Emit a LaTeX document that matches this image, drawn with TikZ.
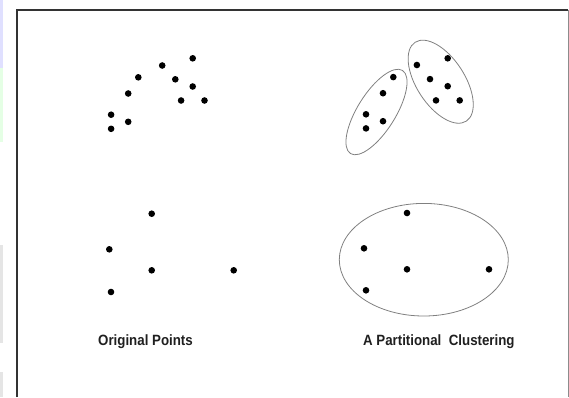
\documentclass[tikz,border=0pt]{standalone}
\usepackage{fontspec}
\setmainfont{Liberation Sans}
\begin{document}
\begin{tikzpicture}[x=1pt,y=-1pt,
  datapt/.style={circle, fill=black, draw=none, inner sep=0pt, minimum size=6.6pt},
  clusterline/.style={draw=black!50, line width=0.8pt},
  caption/.style={font=\fontsize{13.3}{15}\selectfont\bfseries, text=black!88, inner sep=0pt}]
\useasboundingbox (0,0) rectangle (569,397);
% left-edge screenshot strips
\fill[blue!12!white] (0,0) rectangle (3,68);
\fill[green!10!white] (0,68) rectangle (3,142);
\fill[black!10!white] (0,245) rectangle (3,343);
\fill[black!10!white] (0,372) rectangle (3,397);
% frame
\draw[black!80, line width=1.5pt] (17,397) -- (17,10) -- (568,10);
\draw[black!45, line width=1pt] (568,10) -- (568,397);
% upper left points
\foreach \n/\x/\y in {a1/192.7/58.3, a2/162.2/65.5, a3/138.3/77.3, a4/175.3/79.3, a5/192.7/86.5,
  a6/128.2/93.5, a7/181.1/100.5, a8/204.5/100.5, a9/111.1/114.7, a10/128.2/121.8, a11/111.1/128.8}
  \node[datapt] (\n) at (\x,\y) {};
% upper right points
\foreach \n/\x/\y in {b1/447.7/58.3, b2/416.9/65.0, b3/430.0/79.1, b4/447.7/86.2, b5/436.0/100.4,
  b6/459.7/100.4, b7/393.3/77.1, b8/383.0/93.2, b9/366.0/114.3, b10/383.0/121.2, b11/366.0/128.4}
  \node[datapt] (\n) at (\x,\y) {};
% cluster ellipses (upper right)
\draw[clusterline, rotate around={58:(376.5,112)}] (376.5,112) ellipse [x radius=49pt, y radius=19pt];
\draw[clusterline, rotate around={-57:(440.7,81.7)}] (440.7,81.7) ellipse [x radius=47pt, y radius=24pt];
% lower left points
\foreach \n/\x/\y in {c1/151.7/213.7, c2/109.3/249.3, c3/151.7/270.3, c4/233.7/270.3, c5/111.0/292.0}
  \node[datapt] (\n) at (\x,\y) {};
% lower right points
\foreach \n/\x/\y in {d1/407.0/213.0, d2/364.0/248.3, d3/407.0/269.3, d4/489.0/269.3, d5/366.0/290.3}
  \node[datapt] (\n) at (\x,\y) {};
% lower right cluster ellipse
\draw[clusterline] (423.8,259.7) ellipse [x radius=84.5pt, y radius=56.3pt];
% captions
\node[caption, anchor=base west] (t1) at (98,345.5) {\scalebox{1}[1.12]{Original Points}};
\node[caption, anchor=base west] (t2) at (362.9,345.5) {\scalebox{1}[1.12]{A Partitional\ \ Clustering}};
\end{tikzpicture}
\end{document}
